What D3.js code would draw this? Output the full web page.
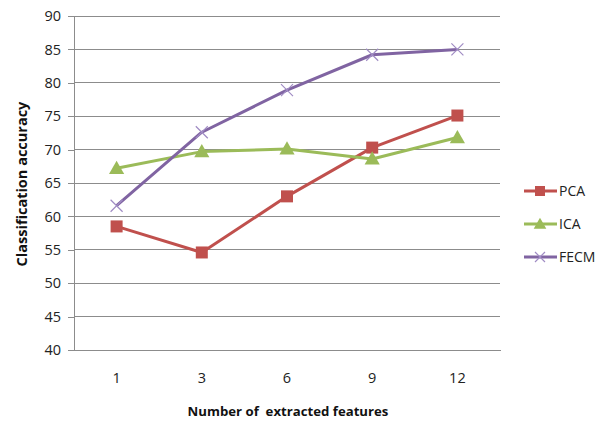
<!DOCTYPE html>
<html><head><meta charset="utf-8">
<script src="https://cdn.jsdelivr.net/npm/d3@7"></script>
<style>body{margin:0;background:#fff}svg{display:block}</style>
</head><body><svg id="c" width="606" height="425"></svg>
<script>
const categories = ["1","3","6","9","12"];
const pca  = [58.5, 54.6, 63.0, 70.3, 75.1];
const ica  = [67.2, 69.7, 70.1, 68.6, 71.8];
const fecm = [61.6, 72.6, 78.9, 84.2, 85.0];
const yTicks = [40,45,50,55,60,65,70,75,80,85,90];
const seriesNames = ["PCA","ICA","FECM"];
const colors = ["#C0504D","#9BBB59","#8064A2"];

(function(){
const svg = d3.select("#c");
const font = "'Open Sans', 'Liberation Sans', sans-serif";
const pL = 74, pR = 500, pT = 16, pB = 350;
const x = d3.scaleBand().domain(categories).range([pL, pR]);
const y = d3.scaleLinear().domain([40, 90]).range([pB, pT]);

svg.append("g").selectAll("line").data(yTicks).join("line")
  .attr("x1", pL).attr("x2", pR)
  .attr("y1", d => y(d)).attr("y2", d => y(d))
  .attr("stroke", "#8c8c8c").attr("stroke-width", 1).attr("shape-rendering","crispEdges");

const ya = svg.append("g").attr("transform", `translate(${pL},0)`)
  .call(d3.axisLeft(y).tickValues(yTicks).tickSize(6).tickPadding(7));
ya.select(".domain").attr("stroke", "#8c8c8c").attr("shape-rendering","crispEdges");
ya.selectAll(".tick line").attr("stroke", "#8c8c8c").attr("shape-rendering","crispEdges");
ya.selectAll("text").attr("font-family", font).attr("font-size", 14.5).attr("fill", "#222");

const xa = svg.append("g").attr("transform", `translate(0,${pB})`)
  .call(d3.axisBottom(x).tickSize(0).tickPadding(23));
xa.select(".domain").attr("stroke", "#8c8c8c").attr("shape-rendering","crispEdges");
xa.selectAll("text").attr("font-family", font).attr("font-size", 14.5).attr("fill", "#222");

svg.append("text").attr("x", 288).attr("y", 416).attr("text-anchor", "middle")
  .attr("font-family", font).attr("font-weight", "bold").attr("font-size", 13.2)
  .attr("fill", "#111").attr("xml:space","preserve").text("Number of  extracted features");
svg.append("text").attr("transform", "translate(27,184) rotate(-90)").attr("text-anchor", "middle")
  .attr("font-family", font).attr("font-weight", "bold").attr("font-size", 14.5)
  .attr("fill", "#111").text("Classification accuracy");

const data = [pca, ica, fecm];
const cx = c => x(c) + x.bandwidth() / 2;
const line = d3.line().x((d, i) => cx(categories[i])).y(d => y(d));

function marker(g, type, color, px, py, s) {
  if (type === 0) {
    g.append("rect").attr("x", px - s/2).attr("y", py - s/2).attr("width", s).attr("height", s).attr("fill", color);
  } else if (type === 1) {
    const h = s * 0.55;
    g.append("path").attr("d", `M${px},${py-h*1.15}L${px+h*1.15},${py+h*0.85}L${px-h*1.15},${py+h*0.85}Z`).attr("fill", color);
  } else {
    const h = s / 2;
    g.append("path").attr("d", `M${px-h},${py-h}L${px+h},${py+h}M${px-h},${py+h}L${px+h},${py-h}`)
      .attr("stroke", "#a08cc4").attr("stroke-width", 1.2).attr("fill", "none");
  }
}

data.forEach((vals, si) => {
  const g = svg.append("g");
  g.append("path").datum(vals).attr("d", line).attr("fill", "none")
    .attr("stroke", colors[si]).attr("stroke-width", 3).attr("stroke-linejoin", "round");
  vals.forEach((v, i) => marker(g, si, colors[si], cx(categories[i]), y(v), 12));
});

const ly = [191, 224, 257];
seriesNames.forEach((n, si) => {
  const g = svg.append("g");
  g.append("line").attr("x1", 524).attr("x2", 557).attr("y1", ly[si]).attr("y2", ly[si])
    .attr("stroke", colors[si]).attr("stroke-width", 3);
  marker(g, si, colors[si], 540, ly[si], 10);
  g.append("text").attr("x", 559).attr("y", ly[si] + 5).attr("font-family", font)
    .attr("font-size", 14).attr("fill", "#222").text(n);
});
})();
</script></body></html>
